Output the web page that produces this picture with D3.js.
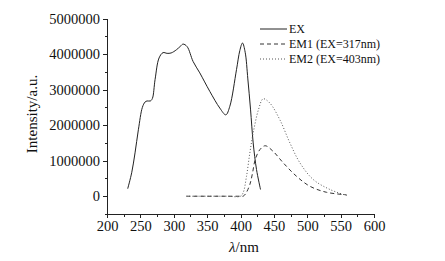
<!DOCTYPE html>
<html>
    <head>
        <script src="https://d3js.org/d3.v7.min.js"></script>
        <style>
            body { margin: 0; background: #fff; }
            .axis path, .axis line { stroke: #222; shape-rendering: crispEdges; }
            .axis text { font-family: "Liberation Serif", serif; font-size: 14.5px; fill: #111; }
            .lbl { font-family: "Liberation Serif", serif; fill: #111; }
        </style>
    </head>
    <body>
        <svg width="445" height="261"></svg>
        <script>
            // excitation spectrum (nm, intensity)
            var exNm = [231, 237, 242, 247, 253, 257, 260, 265, 268, 272, 278, 284, 290, 296, 304, 310, 314, 320, 329, 339, 354, 369, 378, 384, 394, 399, 403, 407, 411, 415, 419, 424, 430];
            var exVal = [210000, 660000, 1220000, 1870000, 2500000, 2650000, 2680000, 2680000, 2750000, 3280000, 3890000, 4040000, 4020000, 4030000, 4120000, 4220000, 4280000, 4210000, 3790000, 3470000, 2950000, 2480000, 2290000, 2530000, 3560000, 4100000, 4310000, 4050000, 3300000, 2450000, 1500000, 750000, 190000];

            // emission, excited at 317 nm
            var em1Nm = [319, 340, 360, 380, 400, 404, 408, 414, 418, 422, 429, 437, 449, 464, 484, 504, 529, 559];
            var em1Val = [0, 0, 0, 0, 0, 0, 80000, 330000, 650000, 1030000, 1310000, 1420000, 1260000, 940000, 560000, 280000, 110000, 40000];

            // emission, excited at 403 nm
            var em2Nm = [319, 340, 360, 380, 400, 404, 409, 414, 419, 427, 434, 444, 459, 474, 489, 509, 534, 559];
            var em2Val = [0, 0, 0, 0, 0, 100000, 560000, 1220000, 1780000, 2440000, 2740000, 2620000, 2150000, 1500000, 940000, 470000, 190000, 20000];

            var seriesNames = ["EX", "EM1 (EX=317nm)", "EM2 (EX=403nm)"];
            var xTicks = [200, 250, 300, 350, 400, 450, 500, 550, 600];
            var yTicks = [0, 1000000, 2000000, 3000000, 4000000, 5000000];

            var svg = d3.select("svg");

            var x = d3.scaleLinear().domain([200, 600]).range([107, 374]);
            var y = d3.scaleLinear().domain([-500000, 5000000]).range([214, 18.5]);

            // minor ticks first
            svg.append("g")
                .attr("class", "axis")
                .attr("transform", "translate(0,214)")
                .call(d3.axisBottom(x).tickValues(d3.range(225, 600, 50)).tickSize(2.5).tickFormat(""))
                .select(".domain").remove();
            svg.append("g")
                .attr("class", "axis")
                .attr("transform", "translate(107,0)")
                .call(d3.axisLeft(y).tickValues(d3.range(-500000, 5000000, 1000000)).tickSize(2.5).tickFormat(""))
                .select(".domain").remove();

            svg.append("g")
                .attr("class", "axis")
                .attr("transform", "translate(0,214)")
                .call(d3.axisBottom(x).tickValues(xTicks).tickSize(4).tickSizeOuter(0).tickPadding(3));

            svg.append("g")
                .attr("class", "axis")
                .attr("transform", "translate(107,0)")
                .call(d3.axisLeft(y).tickValues(yTicks).tickSize(4).tickSizeOuter(0).tickPadding(3).tickFormat(d3.format("d")));

            svg.append("text")
                .attr("class", "lbl")
                .attr("transform", "translate(37,114) rotate(-90)")
                .attr("text-anchor", "middle")
                .style("font-size", "15px")
                .text("Intensity/a.u.");

            var xl = svg.append("text")
                .attr("class", "lbl")
                .attr("x", 244).attr("y", 252)
                .attr("text-anchor", "middle")
                .style("font-size", "15px");
            xl.append("tspan").style("font-style", "italic").text("λ");
            xl.append("tspan").text("/nm");

            var line = d3.line()
                .x(d => x(d[0]))
                .y(d => y(d[1]))
                .curve(d3.curveCatmullRom);

            var series = [
                {name: seriesNames[0], pts: d3.zip(exNm, exVal), dash: null, color: "#222"},
                {name: seriesNames[1], pts: d3.zip(em1Nm, em1Val), dash: "4,3", color: "#333"},
                {name: seriesNames[2], pts: d3.zip(em2Nm, em2Val), dash: "1,2", color: "#555"}
            ];

            svg.selectAll(".curve")
                .data(series)
              .enter().append("path")
                .attr("class", "curve")
                .attr("d", d => line(d.pts))
                .attr("fill", "none")
                .attr("stroke", d => d.color)
                .attr("stroke-width", 1)
                .attr("stroke-dasharray", d => d.dash);

            // legend
            var leg = svg.selectAll(".leg")
                .data(series)
              .enter().append("g")
                .attr("class", "leg")
                .attr("transform", (d, i) => "translate(260," + (29 + i * 15) + ")");
            leg.append("line")
                .attr("x1", 0).attr("x2", 27)
                .attr("stroke", d => d.color)
                .attr("stroke-dasharray", d => d.dash);
            leg.append("text")
                .attr("class", "lbl")
                .attr("x", 29).attr("dy", "0.35em")
                .style("font-size", "12px")
                .text(d => d.name);
        </script>
    </body>
</html>
